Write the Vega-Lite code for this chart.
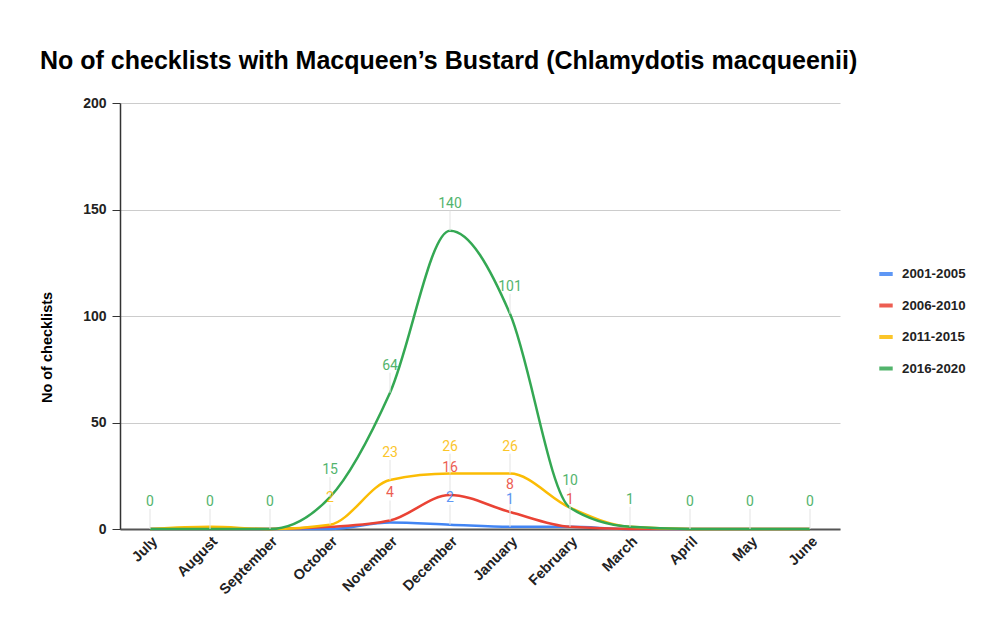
{
  "$schema": "https://vega.github.io/schema/vega-lite/v6.json",
  "autosize": "none",
  "width": 720,
  "height": 426,
  "padding": {"left": 120, "top": 103, "right": 147, "bottom": 91},
  "background": "white",
  "config": {"view": {"stroke": null}},
  "title": {
    "text": "No of checklists with Macqueen’s Bustard (Chlamydotis macqueenii)",
    "anchor": "start",
    "frame": "group",
    "dx": -80,
    "offset": 22,
    "font": "Liberation Sans",
    "fontSize": 25,
    "fontWeight": "bold",
    "color": "#000000"
  },
  "data": {
    "values": [
      {"month": "July", "period": "2001-2005", "count": 0},
      {"month": "August", "period": "2001-2005", "count": 0},
      {"month": "September", "period": "2001-2005", "count": 0},
      {"month": "October", "period": "2001-2005", "count": 0},
      {"month": "November", "period": "2001-2005", "count": 3},
      {"month": "December", "period": "2001-2005", "count": 2},
      {"month": "January", "period": "2001-2005", "count": 1},
      {"month": "February", "period": "2001-2005", "count": 1},
      {"month": "March", "period": "2001-2005", "count": 0},
      {"month": "April", "period": "2001-2005", "count": 0},
      {"month": "May", "period": "2001-2005", "count": 0},
      {"month": "June", "period": "2001-2005", "count": 0},
      {"month": "July", "period": "2006-2010", "count": 0},
      {"month": "August", "period": "2006-2010", "count": 0},
      {"month": "September", "period": "2006-2010", "count": 0},
      {"month": "October", "period": "2006-2010", "count": 1},
      {"month": "November", "period": "2006-2010", "count": 4},
      {"month": "December", "period": "2006-2010", "count": 16},
      {"month": "January", "period": "2006-2010", "count": 8},
      {"month": "February", "period": "2006-2010", "count": 1},
      {"month": "March", "period": "2006-2010", "count": 0},
      {"month": "April", "period": "2006-2010", "count": 0},
      {"month": "May", "period": "2006-2010", "count": 0},
      {"month": "June", "period": "2006-2010", "count": 0},
      {"month": "July", "period": "2011-2015", "count": 0},
      {"month": "August", "period": "2011-2015", "count": 1},
      {"month": "September", "period": "2011-2015", "count": 0},
      {"month": "October", "period": "2011-2015", "count": 2},
      {"month": "November", "period": "2011-2015", "count": 23},
      {"month": "December", "period": "2011-2015", "count": 26},
      {"month": "January", "period": "2011-2015", "count": 26},
      {"month": "February", "period": "2011-2015", "count": 10},
      {"month": "March", "period": "2011-2015", "count": 1},
      {"month": "April", "period": "2011-2015", "count": 0},
      {"month": "May", "period": "2011-2015", "count": 0},
      {"month": "June", "period": "2011-2015", "count": 0},
      {"month": "July", "period": "2016-2020", "count": 0},
      {"month": "August", "period": "2016-2020", "count": 0},
      {"month": "September", "period": "2016-2020", "count": 0},
      {"month": "October", "period": "2016-2020", "count": 15},
      {"month": "November", "period": "2016-2020", "count": 64},
      {"month": "December", "period": "2016-2020", "count": 140},
      {"month": "January", "period": "2016-2020", "count": 101},
      {"month": "February", "period": "2016-2020", "count": 10},
      {"month": "March", "period": "2016-2020", "count": 1},
      {"month": "April", "period": "2016-2020", "count": 0},
      {"month": "May", "period": "2016-2020", "count": 0},
      {"month": "June", "period": "2016-2020", "count": 0}
    ]
  },
  "encoding": {
    "x": {
      "field": "month",
      "type": "ordinal",
      "sort": ["July", "August", "September", "October", "November", "December", "January", "February", "March", "April", "May", "June"],
      "scale": {"type": "point", "padding": 0.5},
      "axis": {
        "title": null,
        "labelAngle": -45,
        "labelAlign": "right",
        "labelBaseline": "top",
        "labelFont": "Liberation Sans",
        "labelFontSize": 14.5,
        "labelFontWeight": "bold",
        "labelColor": "#222222",
        "labelPadding": 5,
        "ticks": false,
        "domainColor": "#555555",
        "domainWidth": 2,
        "grid": false
      }
    },
    "y": {
      "field": "count",
      "type": "quantitative",
      "scale": {"domain": [0, 200], "nice": false},
      "axis": {
        "title": "No of checklists",
        "titleFont": "Liberation Sans",
        "titleFontSize": 14.5,
        "titleFontWeight": "bold",
        "titleColor": "#000000",
        "titleX": -66,
        "titleY": 244,
        "titleAngle": -90,
        "values": [0, 50, 100, 150, 200],
        "labelFont": "Liberation Sans",
        "labelFontSize": 14,
        "labelFontWeight": "bold",
        "labelColor": "#222222",
        "labelPadding": 6,
        "tickSize": 8,
        "tickColor": "#333333",
        "domainColor": "#333333",
        "domainWidth": 1.5,
        "gridColor": "#cccccc",
        "gridWidth": 1
      }
    },
    "color": {
      "field": "period",
      "type": "nominal",
      "scale": {
        "domain": ["2001-2005", "2006-2010", "2011-2015", "2016-2020"],
        "range": ["#4285F4", "#EA4335", "#FBBC04", "#34A853"]
      },
      "legend": {
        "title": null,
        "orient": "none",
        "legendX": 757,
        "legendY": 162,
        "symbolType": "stroke",
        "symbolStrokeWidth": 4,
        "symbolSize": 180,
        "labelFont": "Liberation Sans",
        "labelFontSize": 13.3,
        "labelFontWeight": "bold",
        "labelColor": "#222222",
        "rowPadding": 14.5,
        "labelOffset": 7
      }
    }
  },
  "layer": [
    {
      "mark": {"type": "line", "interpolate": "monotone", "strokeWidth": 2.5}
    },
    {
      "transform": [
        {"filter": {"or": [
          {"field": "period", "equal": "2016-2020"},
          {"and": [{"field": "period", "equal": "2011-2015"}, {"field": "month", "oneOf": ["October", "November", "December", "January"]}]},
          {"and": [{"field": "period", "equal": "2006-2010"}, {"field": "month", "oneOf": ["November", "December", "January", "February"]}]},
          {"and": [{"field": "period", "equal": "2001-2005"}, {"field": "month", "oneOf": ["December", "January"]}]}
        ]}}
      ],
      "layer": [
        {
          "mark": {"type": "rule", "strokeWidth": 1, "y2Offset": -20},
          "encoding": {
            "y2": {"field": "count"},
            "color": {"value": "#e3e3e3"}
          }
        },
        {
          "mark": {"type": "text", "dy": -27, "font": "Roboto", "fontSize": 14, "opacity": 0.85},
          "encoding": {
            "text": {"field": "count", "type": "quantitative"}
          }
        }
      ]
    }
  ]
}
